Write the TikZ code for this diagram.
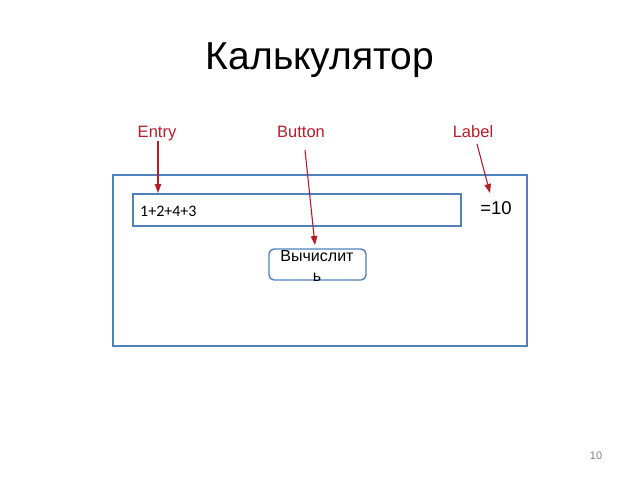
\documentclass[tikz,border=0pt]{standalone}
\usepackage{fontspec}
\setmainfont{Liberation Sans}
\newfontfamily\calib{Carlito}
\usetikzlibrary{arrows.meta}
\definecolor{frameblue}{RGB}{79,129,189}
\definecolor{labred}{RGB}{185,28,40}
\begin{document}
\begin{tikzpicture}[x=1pt,y=-1pt,
  frame/.style={draw=frameblue,line width=1.6pt},
  lab/.style={text=labred,font=\fontsize{16.5}{19}\selectfont,inner sep=0pt,anchor=base},
  arr/.style={draw=labred,line width=1.1pt,-{Triangle[length=9pt,width=6.5pt]}}]
\useasboundingbox (0,0) rectangle (640,480);
\node[font=\fontsize{39}{44}\selectfont,inner sep=0pt] (title) at (320,60) {Калькулятор};
\node[frame,minimum width=414pt,minimum height=171pt,inner sep=0pt] (win) at (320,260.5) {};
\node[frame,line width=1.4pt,minimum width=328pt,minimum height=32pt,inner sep=0pt] (entry) at (297,210) {};
\node[anchor=base west,font=\calib\fontsize{16}{18}\selectfont,inner sep=0pt] (etext) at (140,216) {1+2+4+3};
\node[anchor=base,font=\fontsize{18.5}{20}\selectfont,inner sep=0pt] (res) at (496,214.5) {=10};
\node[frame,line width=1.4pt,rounded corners=5pt,minimum width=97pt,minimum height=31pt,inner sep=0pt] (btn) at (317.5,264.5) {};
\node[anchor=base,font=\fontsize{16}{20}\selectfont,inner sep=0pt] (btext) at (317,261) {Вычислит};
\node[anchor=base,font=\fontsize{16}{20}\selectfont,inner sep=0pt] (btext2) at (317,281) {ь};
\node[lab] (lentry) at (157,137) {Entry};
\node[lab] (lbutton) at (301,137) {Button};
\node[lab] (llabel) at (473,137) {Label};
\coordinate (eend) at (158,193);
\coordinate (bend) at (315,245);
\coordinate (lend) at (490,193);
\draw[arr] (158,141) -- (eend);
\draw[arr] (305,150) -- (bend);
\draw[arr] (477,144) -- (lend);
\node[text=gray,font=\fontsize{11}{13}\selectfont,inner sep=0pt] (pg) at (596,456) {10};
\end{tikzpicture}
\end{document}
